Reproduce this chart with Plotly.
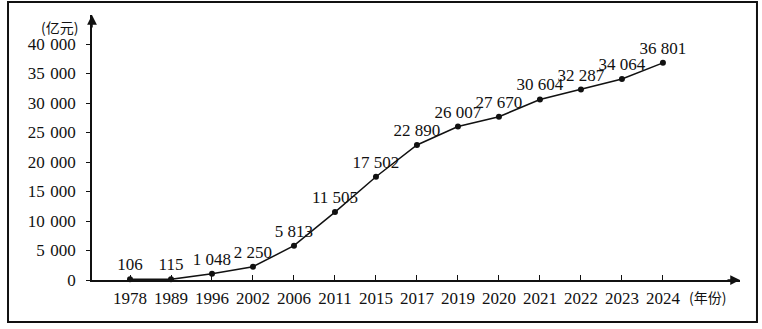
import plotly.graph_objects as go

years = ["1978", "1989", "1996", "2002", "2006", "2011", "2015", "2017",
         "2019", "2020", "2021", "2022", "2023", "2024"]
values = [106, 115, 1048, 2250, 5813, 11505, 17502, 22890,
          26007, 27670, 30604, 32287, 34064, 36801]
y_ticks = [0, 5000, 10000, 15000, 20000, 25000, 30000, 35000, 40000]


def fmt(v, sep=" "):
    return f"{v:,}".replace(",", sep)


labels = [fmt(v) for v in values]
y_tick_text = [fmt(v, "\u2004") for v in y_ticks]

serif = "Liberation Serif, Times New Roman, serif"
cjk = "Noto Sans CJK SC"

fig = go.Figure()
fig.add_trace(go.Scatter(
    x=years, y=values, mode="lines+markers+text",
    text=labels, textposition="top center",
    textfont=dict(family=serif, size=17, color="#111"),
    line=dict(color="#111", width=1.5),
    marker=dict(color="#111", size=6),
    cliponaxis=False, hoverinfo="skip",
))

fig.update_layout(
    width=762, height=329,
    margin=dict(l=92, r=22, t=15, b=49),
    paper_bgcolor="white", plot_bgcolor="white",
    showlegend=False,
    font=dict(family=serif, size=17, color="#111"),
    xaxis=dict(
        type="category", range=[-0.927, 14.88],
        showgrid=False, zeroline=False,
        showline=True, linecolor="#111", linewidth=1.5,
        ticks="inside", ticklen=5, tickcolor="#111", tickwidth=1,
        ticklabelstandoff=2,
        tickfont=dict(family=serif, size=17, color="#111"),
    ),
    yaxis=dict(
        range=[0, 44915],
        tickvals=y_ticks, ticktext=y_tick_text,
        showgrid=False, zeroline=False,
        showline=True, linecolor="#111", linewidth=1.5,
        ticks="outside", ticklen=4, tickcolor="#111", tickwidth=1,
        ticklabelstandoff=7,
        tickfont=dict(family=serif, size=17, color="#111"),
    ),
)

# border box
fig.add_shape(type="rect", xref="paper", yref="paper",
              x0=-0.1296, x1=1.0262, y0=-0.1585, y1=1.049,
              line=dict(color="#111", width=2), layer="below")

# axis arrows
fig.add_annotation(x=0, y=1, xref="paper", yref="paper", ax=0, ay=14,
                   axref="pixel", ayref="pixel", text="", showarrow=True,
                   arrowhead=2, arrowsize=1.3, arrowwidth=1.5, arrowcolor="#111")
fig.add_annotation(x=1, y=0, xref="paper", yref="paper", ax=-14, ay=0,
                   axref="pixel", ayref="pixel", text="", showarrow=True,
                   arrowhead=2, arrowsize=1.3, arrowwidth=1.5, arrowcolor="#111")

# axis titles
fig.add_annotation(x=-0.0185, y=0.955, xref="paper", yref="paper",
                   xanchor="right", yanchor="middle",
                   text="(亿元)", showarrow=False,
                   font=dict(family=cjk, size=14, color="#111"))
fig.add_annotation(x=0.918, y=-0.064, xref="paper", yref="paper",
                   xanchor="left", yanchor="middle",
                   text="(年份)", showarrow=False,
                   font=dict(family=cjk, size=14, color="#111"))

fig.write_html("out.html")
